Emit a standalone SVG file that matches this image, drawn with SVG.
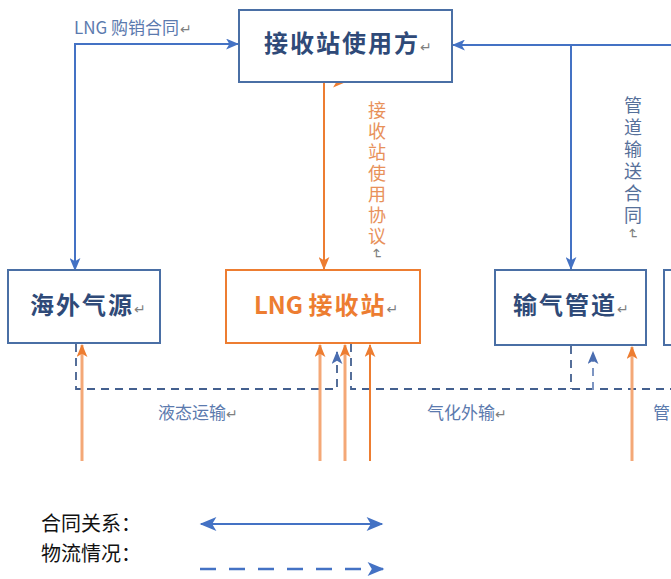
<svg xmlns="http://www.w3.org/2000/svg" width="671" height="579" viewBox="0 0 671 579">
<style>
.box{fill:#fff;stroke:#4A6FA5;stroke-width:2}
.obox{fill:#fff;stroke:#ED7D31;stroke-width:2}
.bl{font-family:"Noto Sans CJK SC",sans-serif;font-size:24px;font-weight:bold;fill:#2F4A78;letter-spacing:2px}
.ol{font-family:"Noto Sans CJK SC",sans-serif;font-size:24px;font-weight:bold;fill:#ED7D31;letter-spacing:2px}
.ret{font-family:"DejaVu Sans",sans-serif;font-size:14px;fill:#7F7F7F;font-weight:normal;letter-spacing:0}
.lbl{font-family:"Noto Sans CJK SC",sans-serif;font-size:17px;fill:#5B7AAE}
.vo{font-family:"Noto Sans CJK SC",sans-serif;font-size:18px;fill:#E8915A;letter-spacing:3px}
.vb{font-family:"Noto Sans CJK SC",sans-serif;font-size:18px;fill:#56709A;letter-spacing:4px}
.leg{font-family:"Liberation Serif","Noto Sans CJK SC",serif;font-size:20px;fill:#111}
.c{fill:none;stroke:#4472C4;stroke-width:2}
.co{fill:none;stroke:#ED7D31;stroke-width:2}
.cl{fill:none;stroke:#F4A877;stroke-width:3}
.d{fill:none;stroke:#44608F;stroke-width:1.8;stroke-dasharray:8 6}
.dl{fill:none;stroke:#7D95C2;stroke-width:2;stroke-dasharray:8 6}
</style>
<defs>
<marker id="ab" viewBox="0 0 12 10" refX="11" refY="5" markerWidth="13" markerHeight="11" orient="auto-start-reverse" markerUnits="userSpaceOnUse"><path d="M0,0 L12,5 L0,10 L3,5 z" fill="#4472C4"/></marker>
<marker id="ao" viewBox="0 0 12 10" refX="11" refY="5" markerWidth="13" markerHeight="11" orient="auto-start-reverse" markerUnits="userSpaceOnUse"><path d="M0,0 L12,5 L0,10 L3,5 z" fill="#ED7D31"/></marker>
<marker id="ad" viewBox="0 0 12 10" refX="11" refY="5" markerWidth="13" markerHeight="11" orient="auto-start-reverse" markerUnits="userSpaceOnUse"><path d="M0,0 L12,5 L0,10 L3,5 z" fill="#4A6DB0"/></marker>
<marker id="al" viewBox="0 0 12 10" refX="11" refY="5" markerWidth="18" markerHeight="14" orient="auto-start-reverse" markerUnits="userSpaceOnUse"><path d="M0,0 L12,5 L0,10 L3,5 z" fill="#4472C4"/></marker>
</defs>

<g id="connectors">
  <path class="c" d="M75,270 V44 H238" marker-end="url(#ab)" marker-start="url(#ab)"/>
  <path class="c" d="M671,45 H453" marker-end="url(#ab)"/>
  <path class="c" d="M571,45 V269" marker-end="url(#ab)"/>
  <path class="co" d="M345,82 H324 V269" marker-start="url(#ao)" marker-end="url(#ao)"/>
  <path class="d" d="M76,344 V389 H337 V352" marker-end="url(#ad)"/>
  <path class="d" d="M351,344 V389 H671"/>
  <path class="d" d="M571,346 V389"/>
  <path class="dl" d="M593,390 V352" marker-end="url(#ad)"/>
  <path class="cl" d="M82,461 V345" marker-end="url(#ao)"/>
  <path class="cl" d="M320,461 V345" marker-end="url(#ao)"/>
  <path class="cl" d="M345,461 V345" marker-end="url(#ao)"/>
  <path class="co" d="M370,461 V345" marker-end="url(#ao)"/>
  <path class="cl" d="M632,461 V347" marker-end="url(#ao)"/>
</g>

<g id="label-lng-contract"><text class="lbl" x="74" y="34">LNG 购销合同<tspan class="ret" dx="1">↵</tspan></text></g>
<g id="label-station-agreement">
  <text class="vo" x="377" y="101" writing-mode="vertical-rl">接收站使用协议<tspan class="ret" font-size="12">↵</tspan></text>
</g>
<g id="label-pipeline-contract">
  <text class="vb" x="633" y="96" writing-mode="vertical-rl">管道输送合同<tspan class="ret" font-size="12">↵</tspan></text>
</g>
<g id="label-liquid"><text class="lbl" x="158" y="419" font-size="18">液态运输<tspan class="ret">↵</tspan></text></g>
<g id="label-gasify"><text class="lbl" x="427" y="419" font-size="18">气化外输<tspan class="ret">↵</tspan></text></g>
<g id="label-pipe-cut"><text class="lbl" x="653" y="419" font-size="18">管</text></g>

<g id="node-user">
  <rect class="box" x="239" y="10" width="213" height="72"/>
  <text class="bl" x="264" y="52">接收站使用方<tspan class="ret">↵</tspan></text>
</g>
<g id="node-overseas">
  <rect class="box" x="8" y="270" width="152" height="73"/>
  <text class="bl" x="30" y="314">海外气源<tspan class="ret">↵</tspan></text>
</g>
<g id="node-lng">
  <rect class="obox" x="226" y="270" width="194" height="73"/>
  <text class="ol" x="254" y="314"><tspan letter-spacing="0">LNG </tspan>接收站<tspan class="ret">↵</tspan></text>
</g>
<g id="node-pipeline">
  <rect class="box" x="495" y="270" width="151" height="75"/>
  <text class="bl" x="513" y="314">输气管道<tspan class="ret">↵</tspan></text>
</g>
<g id="node-cut">
  <rect class="box" x="664" y="270" width="40" height="75"/>
</g>

<g id="legend">
  <text class="leg" x="41" y="531">合同关系：</text>
  <text class="leg" x="41" y="561">物流情况：</text>
  <path class="c" d="M201,524 H382" marker-start="url(#al)" marker-end="url(#al)" stroke-width="2.2"/>
  <path d="M200,569 H383" fill="none" stroke="#4472C4" stroke-width="2.5" stroke-dasharray="16 13" marker-end="url(#al)"/>
</g>
</svg>
